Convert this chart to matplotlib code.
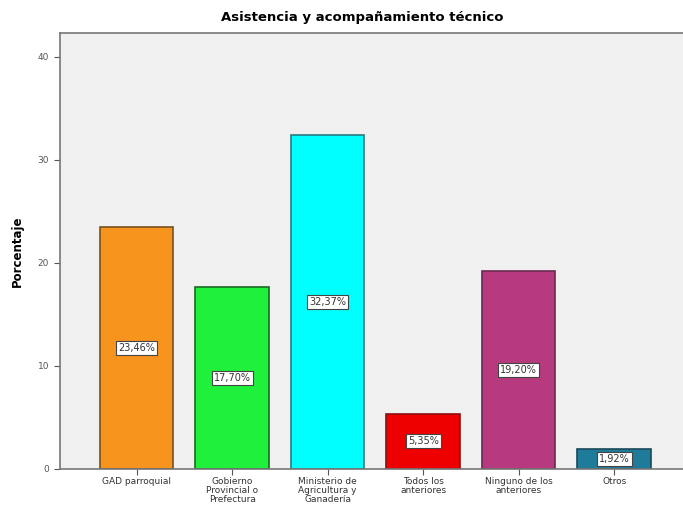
import matplotlib.pyplot as plt

categorias = ['GAD parroquial', 'Gobierno\nProvincial o\nPrefectura',
              'Ministerio de\nAgricultura y\nGanadería', 'Todos los\nanteriores',
              'Ninguno de los\nanteriores', 'Otros']
porcentajes = [23.46, 17.70, 32.37, 5.35, 19.20, 1.92]
etiquetas = ['23,46%', '17,70%', '32,37%', '5,35%', '19,20%', '1,92%']
colores = ['#f7941d', '#1ef03c', '#00ffff', '#ee0000', '#b83a7e', '#1e7c9a']
bordes = ['#7a5020', '#1a6a20', '#2a7a80', '#8a1010', '#6a2a50', '#1a4a5a']

fig = plt.figure(figsize=(6.83, 5.17), dpi=100)
ax = fig.add_axes([0.088, 0.093, 0.912, 0.843])
ax.set_facecolor('#f0f0f0')

x = list(range(len(categorias)))
ax.bar(x, porcentajes, width=0.77, color=colores, edgecolor=bordes, linewidth=1.2)

# Etiquetas de porcentaje en el centro de cada barra
for xi, v, t in zip(x, porcentajes, etiquetas):
    ax.text(xi, v / 2, t, ha='center', va='center', fontsize=7, color='#333333',
            bbox=dict(boxstyle='square,pad=0.2', facecolor='white', edgecolor='#444444', linewidth=0.8))

ax.set_xlim(-0.8, 5.72)
ax.set_ylim(0, 42.3)
ax.set_yticks([0, 10, 20, 30, 40])
ax.set_xticks(x)
ax.set_xticklabels(categorias, fontsize=6.5, color='#333333', linespacing=0.95)
ax.tick_params(axis='y', labelsize=6.5, labelcolor='#555555', length=4, color='#555555', pad=4)
ax.tick_params(axis='x', length=4, color='#555555', pad=2)

for s in ['top', 'left', 'bottom']:
    ax.spines[s].set_color('#777777')
    ax.spines[s].set_linewidth(1.2)
ax.spines['right'].set_visible(False)

ax.set_ylabel('Porcentaje', fontsize=8.5, fontweight='bold', labelpad=10)
fig.text(0.53, 0.966, 'Asistencia y acompañamiento técnico', ha='center', va='center',
         fontsize=9.5, fontweight='bold')

fig.savefig('out.png', dpi=100)
